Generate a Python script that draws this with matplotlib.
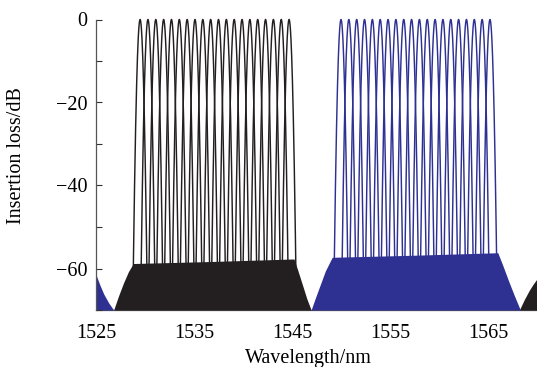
import numpy as np
import matplotlib
matplotlib.use("Agg")
import matplotlib.pyplot as plt
from matplotlib.ticker import MultipleLocator

# ---- data ----
black_centers = [1529.5, 1530.3, 1531.1, 1531.9, 1532.7, 1533.5, 1534.3, 1535.1, 1535.9, 1536.7,
                 1537.5, 1538.3, 1539.1, 1539.9, 1540.7, 1541.5, 1542.3, 1543.1, 1543.9, 1544.7]
blue_centers = [1550.0, 1550.8, 1551.6, 1552.4, 1553.2, 1554.0, 1554.8, 1555.6, 1556.4, 1557.2,
                1558.0, 1558.8, 1559.6, 1560.4, 1561.2, 1562.0, 1562.8, 1563.6, 1564.4, 1565.2]
peak_loss = 0.0          # dB at channel centre
loss_at_04nm = -20.0     # dB, 0.4 nm from the centre
floor_cut = -60.0        # main lobe drawn down to this level

# crosstalk floor envelopes (wavelength nm, dB)
black_floor_x = [1526.8, 1527.3, 1527.8, 1528.3, 1528.8, 1537.0, 1545.2, 1545.6, 1546.1, 1546.5, 1546.95]
black_floor_y = [-70.0, -66.6, -63.5, -60.8, -58.8, -58.3, -57.7, -60.5, -64.2, -67.2, -70.0]
blue_floor_x = [1546.95, 1547.4, 1547.9, 1548.4, 1549.1, 1557.5, 1566.0, 1566.5, 1567.1, 1567.7, 1568.3]
blue_floor_y = [-70.0, -67.0, -63.8, -60.6, -57.3, -56.8, -56.2, -59.2, -63.0, -66.6, -70.0]
blue_wrap_x = [1525.0, 1525.4, 1525.8, 1526.3, 1526.8]
blue_wrap_y = [-61.5, -64.0, -66.2, -68.3, -70.0]
black_wrap_x = [1568.2, 1568.7, 1569.2, 1569.6, 1570.0]
black_wrap_y = [-70.0, -67.5, -65.3, -63.8, -62.5]

xticks = [1525, 1535, 1545, 1555, 1565]
yticks = [0, -20, -40, -60]

BLACK = "#231f20"
BLUE = "#2e3192"

plt.rcParams['font.family'] = ['Liberation Serif', 'DejaVu Serif']
plt.rcParams['axes.unicode_minus'] = True

fig = plt.figure(figsize=(5.37, 3.67), dpi=100)
ax = fig.add_axes([96 / 537, 1 - 310 / 367, 441 / 537, (310 - 19.5) / 367])

# floors (dense side-lobe region)
ax.fill_between(black_floor_x, black_floor_y, -70, color=BLACK, lw=0, zorder=1)
ax.fill_between(black_wrap_x, black_wrap_y, -70, color=BLACK, lw=0, zorder=1)
ax.fill_between(blue_floor_x, blue_floor_y, -70, color=BLUE, lw=0, zorder=1.1)
ax.fill_between(blue_wrap_x, blue_wrap_y, -70, color=BLUE, lw=0, zorder=1.1)

# main lobes (Gaussian -> parabola in dB)
k = -(loss_at_04nm - peak_loss) / 0.4 ** 2
half = np.sqrt((peak_loss - floor_cut) / k)
for centers, col in ((black_centers, BLACK), (blue_centers, BLUE)):
    for c in centers:
        x = np.linspace(c - half, c + half, 300)
        y = peak_loss - k * (x - c) ** 2
        ax.plot(x, y, color=col, lw=1.05, zorder=2, clip_on=False)

ax.set_xlim(1525, 1570)
ax.set_ylim(-70, 0)
ax.set_xticks(xticks)
ax.set_yticks(yticks)
ax.yaxis.set_minor_locator(MultipleLocator(10))
ax.tick_params(axis='y', which='both', direction='in', length=4, width=0.8,
               labelsize=14.5, pad=6, color='#333333')
ax.tick_params(axis='x', which='both', length=0, labelsize=14.5, pad=10)
ax.spines['top'].set_visible(False)
ax.spines['right'].set_visible(False)
for s in ('left', 'bottom'):
    ax.spines[s].set_color('#555555')
    ax.spines[s].set_linewidth(0.9)
ax.spines['bottom'].set_zorder(0.5)

ax.set_xlabel('Wavelength/nm', fontsize=14.5)
ax.xaxis.set_label_coords((308 - 96) / 441, (310 - 349) / 290.5)
ax.set_ylabel('Insertion loss/dB', fontsize=14.5)
ax.yaxis.set_label_coords((26 - 96) / 441, (310 - 156) / 290.5)

fig.savefig('out.png', dpi=100)
